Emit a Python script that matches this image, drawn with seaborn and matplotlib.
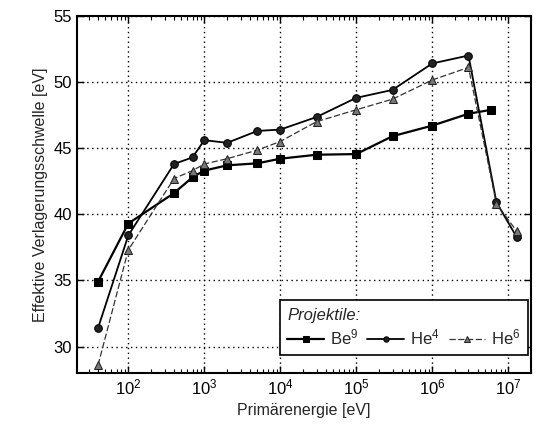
import numpy as np
import pandas as pd
import matplotlib
matplotlib.use("Agg")
import matplotlib.pyplot as plt
import seaborn as sns

# Data
be9_E = [40, 100, 400, 700, 1e3, 2e3, 5e3, 1e4, 3e4, 1e5, 3e5, 1e6, 3e6, 6e6]
be9_T = [34.9, 39.3, 41.6, 42.8, 43.3, 43.7, 43.85, 44.2, 44.5, 44.55, 45.9, 46.7, 47.6, 47.9]

he4_E = [40, 100, 400, 700, 1e3, 2e3, 5e3, 1e4, 3e4, 1e5, 3e5, 1e6, 3e6, 7e6, 1.3e7]
he4_T = [31.4, 38.4, 43.8, 44.3, 45.6, 45.4, 46.3, 46.4, 47.35, 48.8, 49.4, 51.4, 52.0, 40.9, 38.25]

he6_E = [40, 100, 400, 700, 1e3, 2e3, 5e3, 1e4, 3e4, 1e5, 3e5, 1e6, 3e6, 7e6, 1.3e7]
he6_T = [28.6, 37.3, 42.7, 43.3, 43.8, 44.2, 44.85, 45.5, 47.0, 47.9, 48.7, 50.15, 51.1, 40.8, 38.7]

x_ticks = [1e2, 1e3, 1e4, 1e5, 1e6, 1e7]
y_ticks = [30, 35, 40, 45, 50, 55]

sns.set_style("ticks")
plt.rcParams['font.family'] = ['Liberation Sans', 'DejaVu Sans']
plt.rcParams['mathtext.fontset'] = 'custom'
plt.rcParams['mathtext.rm'] = 'Liberation Sans'
plt.rcParams['mathtext.it'] = 'Liberation Sans:italic'

fig = plt.figure(figsize=(5.37, 4.28), dpi=100)
ax = fig.add_axes([0.143, 0.1285, 0.846, 0.8345])

be = pd.DataFrame({"E": be9_E, "T": be9_T})
h4 = pd.DataFrame({"E": he4_E, "T": he4_T})
h6 = pd.DataFrame({"E": he6_E, "T": he6_T})

sns.lineplot(data=be, x="E", y="T", ax=ax, color="black", lw=1.6,
             marker="s", markersize=5.5, mfc="black", mec="black",
             label="Be$^9$", sort=False)
sns.lineplot(data=h4, x="E", y="T", ax=ax, color="black", lw=1.3,
             marker="o", markersize=5.5, mfc="#222222", mec="black",
             label="He$^4$", sort=False)
sns.lineplot(data=h6, x="E", y="T", ax=ax, color="#333333", lw=0.9,
             linestyle=(0, (5, 2)), marker="^", markersize=5.5,
             mfc="#777777", mec="#222222", label="He$^6$", sort=False)

ax.set_xscale("log")
ax.set_xlim(21, 2e7)
ax.set_ylim(28, 55)
ax.set_xticks(x_ticks)
ax.set_yticks(y_ticks)

ax.grid(True, which="major", color="black", linestyle=(0, (1, 2.5)), lw=1.0)
ax.tick_params(which="both", direction="in", top=True, right=True,
               labelsize=12, colors="black")
ax.tick_params(which="major", length=5, width=1)
ax.tick_params(which="minor", length=3, width=0.8)
for s in ax.spines.values():
    s.set_linewidth(1.5)
    s.set_color("black")

ax.set_xlabel("Primärenergie [eV]", fontsize=11.5)
ax.set_ylabel("Effektive Verlagerungsschwelle [eV]", fontsize=11.5)

leg = ax.legend(title="Projektile:", ncol=3, loc="lower right",
                bbox_to_anchor=(0.993, 0.05), borderaxespad=0,
                fontsize=12, frameon=True, fancybox=False,
                handlelength=2.2, handletextpad=0.35, columnspacing=0.55,
                markerscale=0.7, borderpad=0.45, labelspacing=0.3)
leg.get_title().set_fontstyle("italic")
leg.get_title().set_fontsize(12)
leg._legend_box.align = "left"
leg.get_frame().set_edgecolor("black")
leg.get_frame().set_linewidth(1.2)
leg.get_frame().set_alpha(1)

fig.savefig("out.png", dpi=100)
